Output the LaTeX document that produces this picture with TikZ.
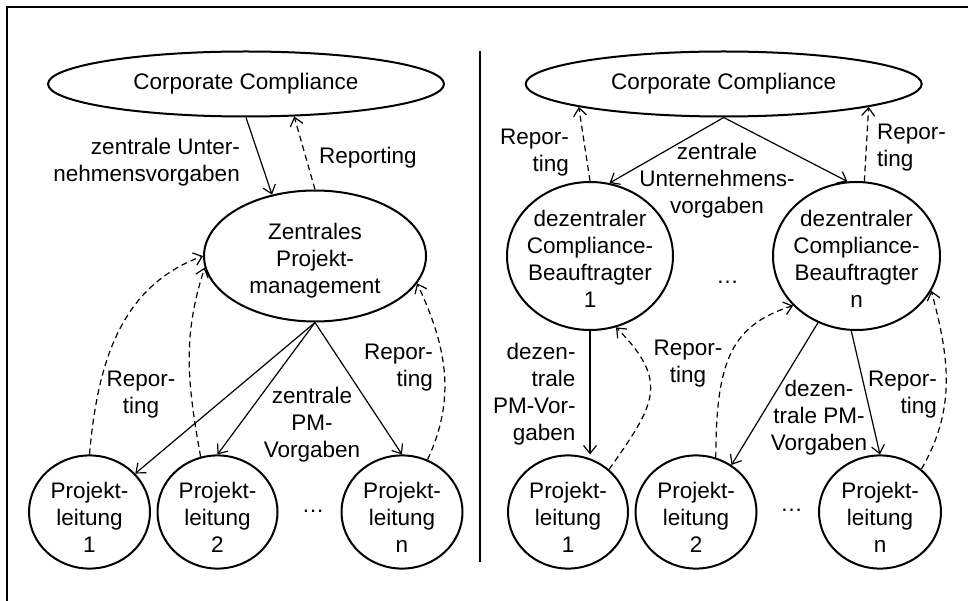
\documentclass[tikz,border=0pt]{standalone}
\usepackage{fontspec}
\setmainfont{Liberation Sans}
\usetikzlibrary{shapes.geometric,arrows.meta,calc}
\newcommand{\tstrut}[1]{\rule{0pt}{#1}}
\begin{document}
\begin{tikzpicture}[x=1pt,y=1pt,
  every node/.style={font=\fontsize{22.5}{27}\selectfont, inner sep=0pt},
  ell/.style={draw, ellipse, line width=2pt, align=center},
  lbl/.style={align=center},
  arr/.style={line width=1.2pt, -{Straight Barb[length=8pt,width=13pt]}},
  rep/.style={arr, dash pattern=on 6pt off 4pt}]
\useasboundingbox (0,0) rectangle (968,600);
% frame and divider
\draw[line width=2.6pt] (7,-5) -- (7,593) -- (975,593);
\draw[line width=2pt] (480,38) -- (480,549);

% ---------- left panel ----------
\node[ell, minimum width=396pt, minimum height=65pt] (cc) at (246,516) {Corporate Compliance};
\node[ell, minimum width=222pt, minimum height=131pt] (zpm) at (315,344) {\tstrut{24.7pt}Zentrales\\Projekt-\\management};
\node[ell, minimum width=121pt, minimum height=102pt] (p1) at (89.5,88) {\tstrut{26pt}Projekt-\\leitung\\1};
\node[ell, minimum width=120pt, minimum height=102pt] (p2) at (217.5,88) {\tstrut{26pt}Projekt-\\leitung\\2};
\node[ell, minimum width=121pt, minimum height=102pt] (pn) at (402,88) {\tstrut{26pt}Projekt-\\leitung\\n};
\node (d1) at (313,88.3) {…};

\node[align=right, anchor=east] (l1) at (240,437.8) {zentrale Unter-\\nehmensvorgaben};
\node[anchor=base west] (l2) at (319,436) {Reporting};
\node[lbl] (l3) at (312,175.2) {zentrale\\PM-\\Vorgaben};
\node[lbl] (l4) at (141,205.7) {Repor-\\ting};
\node[align=right, anchor=east] (l5) at (433,232.7) {Repor-\\ting};

\draw[arr] (cc.south) -- (zpm.125);
\draw[rep] (zpm.north) -- (cc.-34);
\draw[arr] (zpm.south) -- (p1);
\draw[arr] (zpm.south) -- (p2.north);
\draw[arr] (zpm.south) -- (pn.north);
\draw[rep] (p1.north) to[out=85,in=200] (zpm.west);
\draw[rep] (p2.107) to[out=100,in=252] (zpm.186);
\draw[rep] (pn.64) to[out=65,in=295] (zpm.-15);

% ---------- right panel ----------
\node[ell, minimum width=396pt, minimum height=65pt] (cc2) at (723.7,516) {Corporate Compliance};
\node[ell, inner xsep=-8pt, minimum width=166pt, minimum height=148pt] (dcb1) at (590,344) {\tstrut{22.5pt}dezentraler\\Compliance-\\Beauftragter\\1};
\node[ell, inner xsep=-8pt, minimum width=167pt, minimum height=148pt] (dcbn) at (856.5,344) {\tstrut{22.5pt}dezentraler\\Compliance-\\Beauftragter\\n};
\node (d2) at (727.5,318) {…};
\node[ell, minimum width=120pt, minimum height=102pt] (q1) at (568,88) {\tstrut{26pt}Projekt-\\leitung\\1};
\node[ell, minimum width=121pt, minimum height=102pt] (q2) at (696,88) {\tstrut{26pt}Projekt-\\leitung\\2};
\node[ell, minimum width=122pt, minimum height=102pt] (qn) at (880,88) {\tstrut{26pt}Projekt-\\leitung\\n};
\node (d3) at (791.5,89.3) {…};

\node[lbl] (l6) at (717,419.7) {zentrale\\Unternehmens-\\vorgaben};
\node[align=right, anchor=east] (l7) at (569,447.8) {Repor-\\ting};
\node[align=left, anchor=west] (l8) at (877,452.8) {Repor-\\ting};
\node[align=right, anchor=east] (l9) at (575.7,205.8) {dezen-\\trale\\PM-Vor-\\gaben};
\node[lbl] (l10) at (688,236) {Repor-\\ting};
\node[lbl] (l11) at (819,182.4) {dezen-\\trale PM-\\Vorgaben};
\node[align=right, anchor=east] (l12) at (937,205) {Repor-\\ting};

\draw[arr] (cc2.south) -- (dcb1.75);
\draw[arr] (cc2.south) -- (dcbn.97);
\draw[rep] (dcb1.north) -- (cc2.-171);
\draw[rep] (dcbn.84) -- (cc2.-9.4);
\draw[arr] (dcb1.south) -- (dcb1.south |- q1.north);
\draw[rep] (q1.46) to[out=55,in=-45,looseness=1.4] (dcb1.-70);
\draw[arr] (dcbn.240) -- (q2.53);
\draw[rep] (q2.70) .. controls +(90:100) and +(198:63) .. (dcbn.218);
\draw[arr] (dcbn.266) -- (qn.north);
\draw[rep] (qn.46) to[out=60,in=285] (dcbn.-25.5);
\end{tikzpicture}
\end{document}
